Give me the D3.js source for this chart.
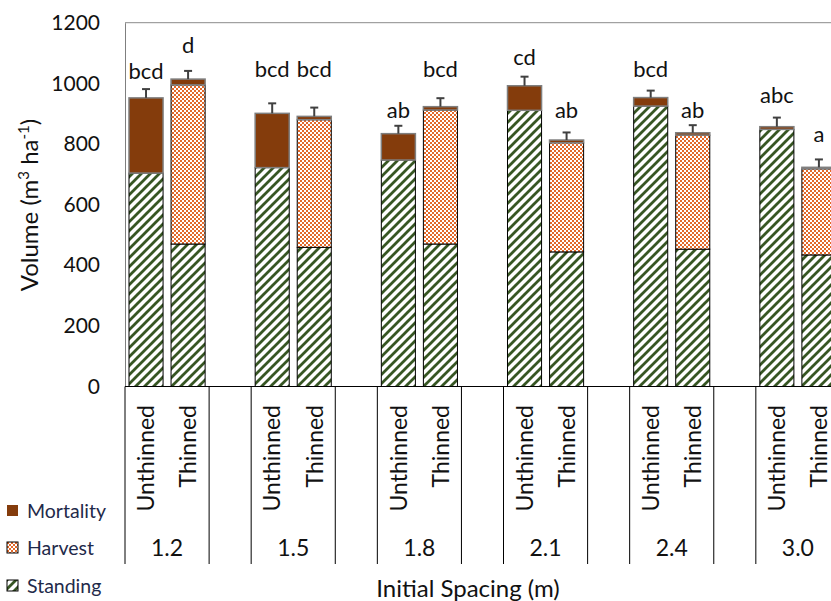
<!DOCTYPE html>
<html lang="en">
<head>
    <meta charset="UTF-8">
    <title>Volume by Initial Spacing</title>
    <style>
        body {
            margin: 0;
            background: #fff;
        }

        svg text {
            font-family: Lato, "Open Sans", sans-serif;
            fill: #111;
        }

        .axis-y .domain {
            stroke: #7f7f7f;
        }
    </style>
</head>
<body>
    <div id="chart"></div>
    <script src="https://cdn.jsdelivr.net/npm/d3@7"></script>
    <script>
        // Data
        const spacings = ["1.2", "1.5", "1.8", "2.1", "2.4", "3.0"];
        const treatments = ["Unthinned", "Thinned"];
        const standing = [704, 470, 722, 459, 747, 470, 911, 444, 925, 453, 848, 434];
        const harvest = [0, 525, 0, 421, 0, 442, 0, 360, 0, 376, 0, 284];
        const mortality = [248, 19, 179, 11, 87, 11, 81, 9, 28, 8, 9, 5];
        const errUp = [29, 27, 33, 29, 26, 28, 30, 25, 23, 25, 30, 26];
        const letters = ["bcd", "d", "bcd", "bcd", "ab", "bcd", "cd", "ab", "bcd", "ab", "abc", "a"];
        const letterAt = [1015, 1101, 1021, 1021, 886, 1021, 1061, 886, 1021, 886, 936, 807];
        const yTicks = [0, 200, 400, 600, 800, 1000, 1200];
        const seriesNames = ["Mortality", "Harvest", "Standing"];

        const width = 831, height = 601;
        const plot = { left: 125, right: 882, top: 22.7, bottom: 386.5 };

        // one row per bar
        const rows = [];
        spacings.forEach((s, g) => {
            treatments.forEach((t, k) => {
                const i = g * 2 + k;
                rows.push({
                    key: s + "|" + t, spacing: s, treatment: t,
                    Standing: standing[i], Harvest: harvest[i], Mortality: mortality[i],
                    err: errUp[i], letter: letters[i], letterAt: letterAt[i]
                });
            });
        });

        // slots: two bars then an empty slot per spacing
        const slots = [];
        spacings.forEach(s => {
            slots.push(s + "|Unthinned", s + "|Thinned", s + "|gap");
        });

        const svg = d3.select("#chart").append("svg")
            .attr("width", width)
            .attr("height", height);

        // fill patterns
        const defs = svg.append("defs");
        const stripes = defs.append("pattern")
            .attr("id", "stripes")
            .attr("patternUnits", "userSpaceOnUse")
            .attr("width", 9).attr("height", 9);
        stripes.append("rect").attr("width", 9).attr("height", 9).attr("fill", "#fff");
        stripes.append("path")
            .attr("d", "M-1,10 L10,-1 M-3,3 L3,-3 M6,12 L12,6")
            .attr("stroke", "#375623")
            .attr("stroke-width", 2.8);

        const checker = defs.append("pattern")
            .attr("id", "checker")
            .attr("patternUnits", "userSpaceOnUse")
            .attr("width", 4).attr("height", 4);
        checker.append("rect").attr("width", 4).attr("height", 4).attr("fill", "#fff");
        checker.append("rect").attr("width", 2).attr("height", 2).attr("fill", "#e2692a");
        checker.append("rect").attr("x", 2).attr("y", 2).attr("width", 2).attr("height", 2).attr("fill", "#e2692a");

        const fills = { Mortality: "#843c0c", Harvest: "url(#checker)", Standing: "url(#stripes)" };

        const x = d3.scaleBand()
            .domain(slots)
            .range([plot.left, plot.right])
            .paddingInner(0.19)
            .paddingOuter(0.095);

        const y = d3.scaleLinear()
            .domain([0, 1200])
            .range([plot.bottom, plot.top]);

        // plot border (top line)
        svg.append("line")
            .attr("x1", plot.left).attr("x2", width)
            .attr("y1", plot.top).attr("y2", plot.top)
            .attr("stroke", "#8c8c8c");

        // y axis
        const yAxis = svg.append("g")
            .attr("class", "axis-y")
            .attr("transform", "translate(" + plot.left + ",0)")
            .call(d3.axisLeft(y).tickValues(yTicks).tickFormat(d3.format("d"))
                .tickSize(0).tickPadding(25));
        yAxis.selectAll("text")
            .style("font-size", "21px")
            .style("font-family", "Lato, sans-serif")
            .style("fill", "#111");

        // stacked bars
        const stack = d3.stack().keys(["Standing", "Harvest", "Mortality"]);
        const layers = stack(rows);

        svg.append("g").selectAll("g")
            .data(layers)
            .join("g")
            .selectAll("rect")
            .data(d => d.map(v => Object.assign(v, { layer: d.key })))
            .join("rect")
            .filter(d => d[1] > d[0])
            .attr("x", d => x(d.data.key))
            .attr("width", x.bandwidth())
            .attr("y", d => y(d[1]))
            .attr("height", d => y(d[0]) - y(d[1]))
            .attr("fill", d => fills[d.layer])
            .attr("stroke", d => d.layer === "Mortality" ? "#7f7f7f" : "#000")
            .attr("stroke-width", d => d.layer === "Mortality" ? 1.5 : 1);

        // error bars (upper only)
        const eb = svg.append("g").selectAll("g")
            .data(rows)
            .join("g")
            .attr("stroke", "#404040")
            .attr("stroke-width", 2);
        const total = d => d.Standing + d.Harvest + d.Mortality;
        eb.append("line")
            .attr("x1", d => x(d.key) + x.bandwidth() / 2)
            .attr("x2", d => x(d.key) + x.bandwidth() / 2)
            .attr("y1", d => y(total(d)))
            .attr("y2", d => y(total(d) + d.err));
        eb.append("line")
            .attr("x1", d => x(d.key) + x.bandwidth() / 2 - 4)
            .attr("x2", d => x(d.key) + x.bandwidth() / 2 + 4)
            .attr("y1", d => y(total(d) + d.err))
            .attr("y2", d => y(total(d) + d.err));

        // significance letters
        svg.append("g").selectAll("text")
            .data(rows)
            .join("text")
            .attr("x", d => x(d.key) + x.bandwidth() / 2)
            .attr("y", d => y(d.letterAt))
            .attr("text-anchor", "middle")
            .style("font-size", "22px")
            .text(d => d.letter);

        // category axis
        svg.append("line")
            .attr("x1", plot.left).attr("x2", width)
            .attr("y1", plot.bottom).attr("y2", plot.bottom)
            .attr("stroke", "#000");

        const half = x.step() * x.paddingInner() / 2;
        const seps = slots.filter(s => !s.endsWith("|Thinned")).map(s => x(s) - half);
        svg.append("g").selectAll("line")
            .data(seps)
            .join("line")
            .attr("x1", d => d).attr("x2", d => d)
            .attr("y1", plot.bottom).attr("y2", 564)
            .attr("stroke", "#000");

        svg.append("g").selectAll("text")
            .data(rows)
            .join("text")
            .attr("transform", d => "translate(" + (x(d.key) + x.bandwidth() / 2) + ",405) rotate(-90)")
            .attr("dy", "0.36em")
            .attr("text-anchor", "end")
            .style("font-size", "23px")
            .text(d => d.treatment);

        svg.append("g").selectAll("text")
            .data(spacings)
            .join("text")
            .attr("x", s => (x(s + "|Unthinned") + x(s + "|Thinned") + x.bandwidth()) / 2)
            .attr("y", 556)
            .attr("text-anchor", "middle")
            .style("font-size", "23px")
            .text(s => s);

        // axis titles
        svg.append("text")
            .attr("x", 468)
            .attr("y", 597)
            .attr("text-anchor", "middle")
            .style("font-size", "24px")
            .text("Initial Spacing (m)");

        const yt = svg.append("text")
            .attr("transform", "translate(38,205) rotate(-90)")
            .attr("text-anchor", "middle")
            .style("font-size", "24px");
        yt.append("tspan").text("Volume (m");
        yt.append("tspan").attr("dy", -9).style("font-size", "15px").text("3");
        yt.append("tspan").attr("dy", 9).text(" ha");
        yt.append("tspan").attr("dy", -9).style("font-size", "15px").text("-1");
        yt.append("tspan").attr("dy", 9).text(")");

        // legend
        const legend = svg.append("g").selectAll("g")
            .data(seriesNames)
            .join("g")
            .attr("transform", (d, i) => "translate(7," + [505, 542, 580][i] + ")");
        legend.append("rect")
            .attr("width", 11).attr("height", 11)
            .attr("fill", d => fills[d])
            .attr("stroke", d => d === "Mortality" ? "none" : "#000");
        legend.append("text")
            .attr("x", 20)
            .attr("y", 6)
            .attr("dy", "0.35em")
            .style("font-size", "19.5px")
            .style("fill", "#1f2a4a")
            .text(d => d);
    </script>
</body>
</html>
